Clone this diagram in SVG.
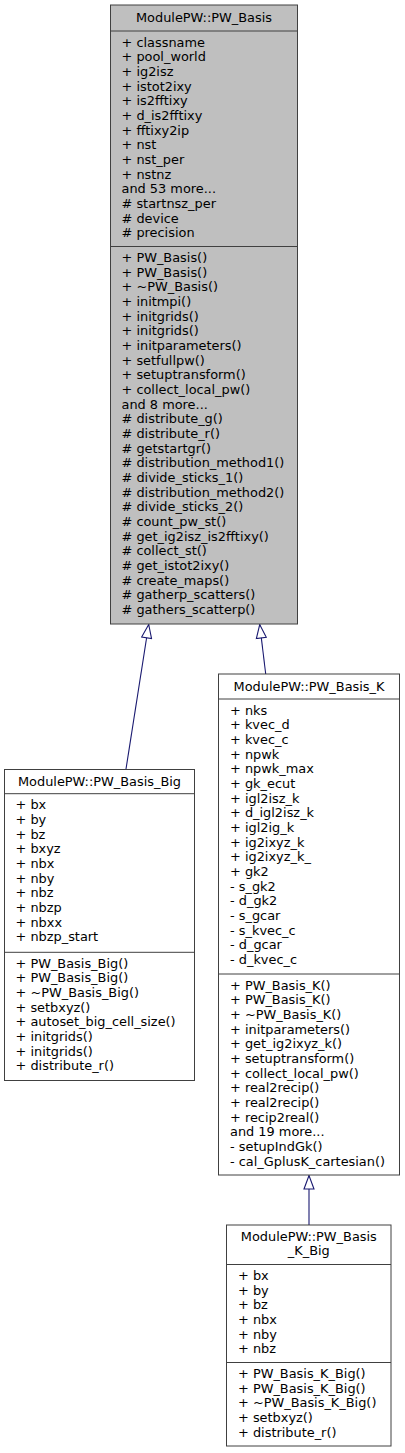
<svg xmlns="http://www.w3.org/2000/svg" width="405" height="1453" viewBox="0 0 405 1453">
<style>
.box{fill:#ffffff;stroke:#404040;stroke-width:1}
.main{fill:#bfbfbf;stroke:#404040;stroke-width:1}
.sep{stroke:#404040;stroke-width:1;fill:none}
text{font-family:"DejaVu Sans","Liberation Sans",sans-serif;font-size:12.9px;fill:#000000}
.t{text-anchor:middle}
.edge{stroke:#191970;stroke-width:1.1;fill:none;marker-end:url(#inh)}
</style>
<defs>
<marker id="inh" markerUnits="userSpaceOnUse" viewBox="-1 -6 16 12" refX="13.5" refY="0" markerWidth="16" markerHeight="12" orient="auto">
<path d="M0,-5 L13.5,0 L0,5 Z" fill="#ffffff" stroke="#191970" stroke-width="1.1"/>
</marker>
</defs>
<g id="connectors">
<path class="edge" d="M126,769 L148.7,624.5"/>
<path class="edge" d="M265.7,674 L259.7,624.5"/>
<path class="edge" d="M309,1225 L309,1175.5"/>
</g>
<g id="PW_Basis">
<rect class="main" x="110.5" y="5" width="187" height="619"/>
<line class="sep" x1="110.5" y1="31" x2="297.5" y2="31"/>
<line class="sep" x1="110.5" y1="246.5" x2="297.5" y2="246.5"/>
<text class="t" x="204" y="22.3">ModulePW::PW_Basis</text>
<text y="46.5"><tspan x="121.5">+ classname</tspan><tspan x="121.5" dy="14.67">+ pool_world</tspan><tspan x="121.5" dy="14.67">+ ig2isz</tspan><tspan x="121.5" dy="14.67">+ istot2ixy</tspan><tspan x="121.5" dy="14.67">+ is2fftixy</tspan><tspan x="121.5" dy="14.67">+ d_is2fftixy</tspan><tspan x="121.5" dy="14.67">+ fftixy2ip</tspan><tspan x="121.5" dy="14.67">+ nst</tspan><tspan x="121.5" dy="14.67">+ nst_per</tspan><tspan x="121.5" dy="14.67">+ nstnz</tspan><tspan x="121.5" dy="14.67">and 53 more...</tspan><tspan x="121.5" dy="14.67"># startnsz_per</tspan><tspan x="121.5" dy="14.67"># device</tspan><tspan x="121.5" dy="14.67"># precision</tspan></text>
<text y="262"><tspan x="121.5">+ PW_Basis()</tspan><tspan x="121.5" dy="14.67">+ PW_Basis()</tspan><tspan x="121.5" dy="14.67">+ ~PW_Basis()</tspan><tspan x="121.5" dy="14.67">+ initmpi()</tspan><tspan x="121.5" dy="14.67">+ initgrids()</tspan><tspan x="121.5" dy="14.67">+ initgrids()</tspan><tspan x="121.5" dy="14.67">+ initparameters()</tspan><tspan x="121.5" dy="14.67">+ setfullpw()</tspan><tspan x="121.5" dy="14.67">+ setuptransform()</tspan><tspan x="121.5" dy="14.67">+ collect_local_pw()</tspan><tspan x="121.5" dy="14.67">and 8 more...</tspan><tspan x="121.5" dy="14.67"># distribute_g()</tspan><tspan x="121.5" dy="14.67"># distribute_r()</tspan><tspan x="121.5" dy="14.67"># getstartgr()</tspan><tspan x="121.5" dy="14.67"># distribution_method1()</tspan><tspan x="121.5" dy="14.67"># divide_sticks_1()</tspan><tspan x="121.5" dy="14.67"># distribution_method2()</tspan><tspan x="121.5" dy="14.67"># divide_sticks_2()</tspan><tspan x="121.5" dy="14.67"># count_pw_st()</tspan><tspan x="121.5" dy="14.67"># get_ig2isz_is2fftixy()</tspan><tspan x="121.5" dy="14.67"># collect_st()</tspan><tspan x="121.5" dy="14.67"># get_istot2ixy()</tspan><tspan x="121.5" dy="14.67"># create_maps()</tspan><tspan x="121.5" dy="14.67"># gatherp_scatters()</tspan><tspan x="121.5" dy="14.67"># gathers_scatterp()</tspan></text>
</g>
<g id="PW_Basis_Big">
<rect class="box" x="4.5" y="769.5" width="190" height="311"/>
<line class="sep" x1="4.5" y1="793.7" x2="194.5" y2="793.7"/>
<line class="sep" x1="4.5" y1="952.3" x2="194.5" y2="952.3"/>
<text class="t" x="99.5" y="786">ModulePW::PW_Basis_Big</text>
<text y="809.2"><tspan x="15.5">+ bx</tspan><tspan x="15.5" dy="14.67">+ by</tspan><tspan x="15.5" dy="14.67">+ bz</tspan><tspan x="15.5" dy="14.67">+ bxyz</tspan><tspan x="15.5" dy="14.67">+ nbx</tspan><tspan x="15.5" dy="14.67">+ nby</tspan><tspan x="15.5" dy="14.67">+ nbz</tspan><tspan x="15.5" dy="14.67">+ nbzp</tspan><tspan x="15.5" dy="14.67">+ nbxx</tspan><tspan x="15.5" dy="14.67">+ nbzp_start</tspan></text>
<text y="967.8"><tspan x="15.5">+ PW_Basis_Big()</tspan><tspan x="15.5" dy="14.67">+ PW_Basis_Big()</tspan><tspan x="15.5" dy="14.67">+ ~PW_Basis_Big()</tspan><tspan x="15.5" dy="14.67">+ setbxyz()</tspan><tspan x="15.5" dy="14.67">+ autoset_big_cell_size()</tspan><tspan x="15.5" dy="14.67">+ initgrids()</tspan><tspan x="15.5" dy="14.67">+ initgrids()</tspan><tspan x="15.5" dy="14.67">+ distribute_r()</tspan></text>
</g>
<g id="PW_Basis_K">
<rect class="box" x="218.5" y="674" width="181" height="501"/>
<line class="sep" x1="218.5" y1="699" x2="399.5" y2="699"/>
<line class="sep" x1="218.5" y1="974" x2="399.5" y2="974"/>
<text class="t" x="309" y="690.7">ModulePW::PW_Basis_K</text>
<text y="714.5"><tspan x="230">+ nks</tspan><tspan x="230" dy="14.67">+ kvec_d</tspan><tspan x="230" dy="14.67">+ kvec_c</tspan><tspan x="230" dy="14.67">+ npwk</tspan><tspan x="230" dy="14.67">+ npwk_max</tspan><tspan x="230" dy="14.67">+ gk_ecut</tspan><tspan x="230" dy="14.67">+ igl2isz_k</tspan><tspan x="230" dy="14.67">+ d_igl2isz_k</tspan><tspan x="230" dy="14.67">+ igl2ig_k</tspan><tspan x="230" dy="14.67">+ ig2ixyz_k</tspan><tspan x="230" dy="14.67">+ ig2ixyz_k_</tspan><tspan x="230" dy="14.67">+ gk2</tspan><tspan x="230" dy="14.67">- s_gk2</tspan><tspan x="230" dy="14.67">- d_gk2</tspan><tspan x="230" dy="14.67">- s_gcar</tspan><tspan x="230" dy="14.67">- s_kvec_c</tspan><tspan x="230" dy="14.67">- d_gcar</tspan><tspan x="230" dy="14.67">- d_kvec_c</tspan></text>
<text y="989.5"><tspan x="230">+ PW_Basis_K()</tspan><tspan x="230" dy="14.67">+ PW_Basis_K()</tspan><tspan x="230" dy="14.67">+ ~PW_Basis_K()</tspan><tspan x="230" dy="14.67">+ initparameters()</tspan><tspan x="230" dy="14.67">+ get_ig2ixyz_k()</tspan><tspan x="230" dy="14.67">+ setuptransform()</tspan><tspan x="230" dy="14.67">+ collect_local_pw()</tspan><tspan x="230" dy="14.67">+ real2recip()</tspan><tspan x="230" dy="14.67">+ real2recip()</tspan><tspan x="230" dy="14.67">+ recip2real()</tspan><tspan x="230" dy="14.67">and 19 more...</tspan><tspan x="230" dy="14.67">- setupIndGk()</tspan><tspan x="230" dy="14.67">- cal_GplusK_cartesian()</tspan></text>
</g>
<g id="PW_Basis_K_Big">
<rect class="box" x="226.5" y="1225" width="164.5" height="221"/>
<line class="sep" x1="226.5" y1="1264.5" x2="391" y2="1264.5"/>
<line class="sep" x1="226.5" y1="1362.5" x2="391" y2="1362.5"/>
<text class="t" x="308.8" y="1240.7">ModulePW::PW_Basis</text>
<text class="t" x="308.8" y="1255.4">_K_Big</text>
<text y="1280"><tspan x="238">+ bx</tspan><tspan x="238" dy="14.67">+ by</tspan><tspan x="238" dy="14.67">+ bz</tspan><tspan x="238" dy="14.67">+ nbx</tspan><tspan x="238" dy="14.67">+ nby</tspan><tspan x="238" dy="14.67">+ nbz</tspan></text>
<text y="1378"><tspan x="238">+ PW_Basis_K_Big()</tspan><tspan x="238" dy="14.67">+ PW_Basis_K_Big()</tspan><tspan x="238" dy="14.67">+ ~PW_Basis_K_Big()</tspan><tspan x="238" dy="14.67">+ setbxyz()</tspan><tspan x="238" dy="14.67">+ distribute_r()</tspan></text>
</g>
</svg>
